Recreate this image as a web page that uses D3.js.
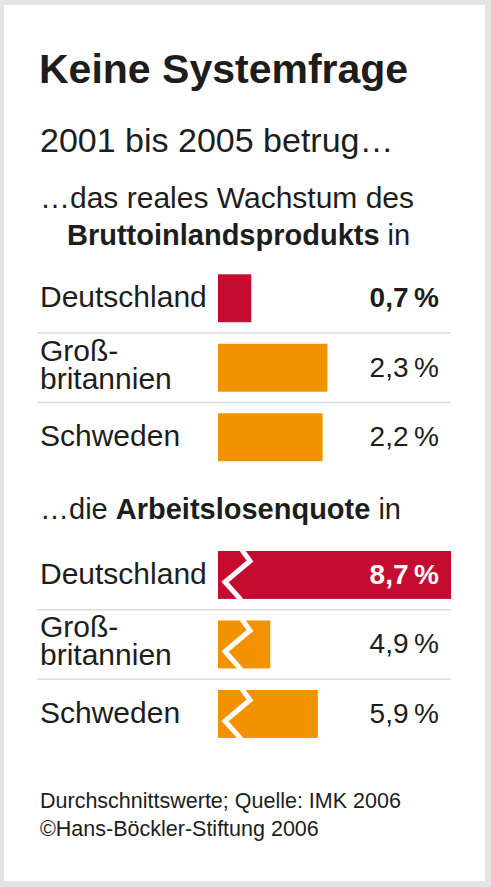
<!DOCTYPE html>
<html>
<head>
<meta charset="utf-8">
<script src="https://cdn.jsdelivr.net/npm/d3@7"></script>
<style>
  body { margin: 0; background: #fff; }
  svg { display: block; font-family: "Liberation Sans", Arial, sans-serif; }
</style>
</head>
<body>
<svg id="chart"></svg>
<script>
var width = 491;
var height = 887;

// data
var countries = ["Deutschland", "Großbritannien", "Schweden"];
var countryLines = [["Deutschland"], ["Groß-", "britannien"], ["Schweden"]];
var gdpGrowth = [0.7, 2.3, 2.2];        // reales Wachstum BIP, % p.a.
var unemployment = [8.7, 4.9, 5.9];     // Arbeitslosenquote, %
var valueLabels1 = ["0,7\u2009%", "2,3\u2009%", "2,2\u2009%"];
var valueLabels2 = ["8,7\u2009%", "4,9\u2009%", "5,9\u2009%"];

var red = "#c60b30";
var orange = "#f39200";
var ink = "#1d1d1b";

var barLeft = 218;
var barRight = 451;
var valueX = 439;
var bodySize = 30;

var svg = d3.select("#chart")
    .attr("width", width)
    .attr("height", height);

// grey frame
svg.append("rect")
    .attr("width", width).attr("height", height)
    .attr("fill", "#e4e4e4");
svg.append("rect")
    .attr("x", 4).attr("y", 5)
    .attr("width", 481).attr("height", 876)
    .attr("fill", "#fff");

// headings
svg.append("text")
    .attr("x", 39).attr("y", 83)
    .attr("font-size", 41).attr("font-weight", "bold")
    .attr("fill", ink)
    .text("Keine Systemfrage");

svg.append("text")
    .attr("x", 40).attr("y", 152)
    .attr("font-size", 34).attr("fill", ink)
    .text("2001 bis 2005 betrug…");

svg.append("text")
    .attr("x", 40).attr("y", 208)
    .attr("font-size", bodySize).attr("fill", ink)
    .text("…das reales Wachstum des");

var t2 = svg.append("text")
    .attr("x", 67).attr("y", 245)
    .attr("font-size", 29).attr("fill", ink);
t2.append("tspan").attr("font-weight", "bold").text("Bruttoinlandsprodukts");
t2.append("tspan").text(" in");

var t3 = svg.append("text")
    .attr("x", 40).attr("y", 519)
    .attr("font-size", 29).attr("fill", ink);
t3.append("tspan").text("…die ");
t3.append("tspan").attr("font-weight", "bold").text("Arbeitslosenquote");
t3.append("tspan").text(" in");

// scales: same px per percent, the second one starts at a broken axis
var x1 = d3.scaleLinear().domain([0, 4.9]).range([barLeft, barRight]);
var x2 = d3.scaleLinear().domain([3.8, 8.7]).range([barLeft, barRight]);

var y1 = d3.scaleBand().domain(countries).range([263.5, 472])
    .paddingInner(0.31).paddingOuter(0.155);
var y2 = d3.scaleBand().domain(countries).range([540.2, 748.7])
    .paddingInner(0.31).paddingOuter(0.155);

function drawPanel(values, labels, x, y, broken) {
    var g = svg.append("g");
    var pad = y.step() * y.paddingInner() / 2;
    var bw = y.bandwidth();

    // separators between rows
    g.selectAll("line.sep")
        .data(countries.slice(1))
        .enter().append("line")
            .attr("x1", 37).attr("x2", 451)
            .attr("y1", d => y(d) - pad)
            .attr("y2", d => y(d) - pad)
            .attr("stroke", "#dcdcdc")
            .attr("stroke-width", 1.5);

    var rows = g.selectAll("g.row")
        .data(countries)
        .enter().append("g");

    rows.append("rect")
        .attr("x", barLeft)
        .attr("y", d => y(d))
        .attr("width", (d, i) => x(values[i]) - barLeft)
        .attr("height", bw)
        .attr("fill", (d, i) => i === 0 ? red : orange);

    if (broken) {
        // white zigzag marks the cut axis
        rows.append("path")
            .attr("d", d => {
                var t = y(d);
                return d3.line()([
                    [barLeft + 24, t - 1],
                    [barLeft + 32, t + 10],
                    [barLeft + 7, t + 31],
                    [barLeft + 23, t + bw + 1]
                ]);
            })
            .attr("fill", "none")
            .attr("stroke", "#fff")
            .attr("stroke-width", 5)
            .attr("stroke-linejoin", "miter");
    }

    // country names, two-line ones as tspans in one text
    rows.append("text")
        .attr("font-size", bodySize)
        .attr("fill", ink)
        .each(function (d, i) {
            var lines = countryLines[i];
            var c = y(d) + bw / 2;
            var base = lines.length === 1 ? [c + 9] : [c - 7, c + 21];
            d3.select(this).selectAll("tspan")
                .data(lines)
                .enter().append("tspan")
                    .attr("x", 40)
                    .attr("y", (l, j) => base[j])
                    .text(l => l);
        });

    // values
    rows.append("text")
        .attr("x", valueX)
        .attr("y", d => y(d) + bw / 2 + 9)
        .attr("text-anchor", "end")
        .attr("font-size", 28)
        .attr("font-weight", (d, i) => i === 0 ? "bold" : "normal")
        .attr("fill", (d, i) => (i === 0 && broken) ? "#fff" : ink)
        .text((d, i) => labels[i]);
}

drawPanel(gdpGrowth, valueLabels1, x1, y1, false);
drawPanel(unemployment, valueLabels2, x2, y2, true);

// footer
svg.append("text")
    .attr("x", 40).attr("y", 808)
    .attr("font-size", 21.5).attr("fill", ink)
    .text("Durchschnittswerte; Quelle: IMK 2006");
svg.append("text")
    .attr("x", 40).attr("y", 836)
    .attr("font-size", 21.5).attr("fill", ink)
    .text("©Hans-Böckler-Stiftung 2006");
</script>
</body>
</html>
